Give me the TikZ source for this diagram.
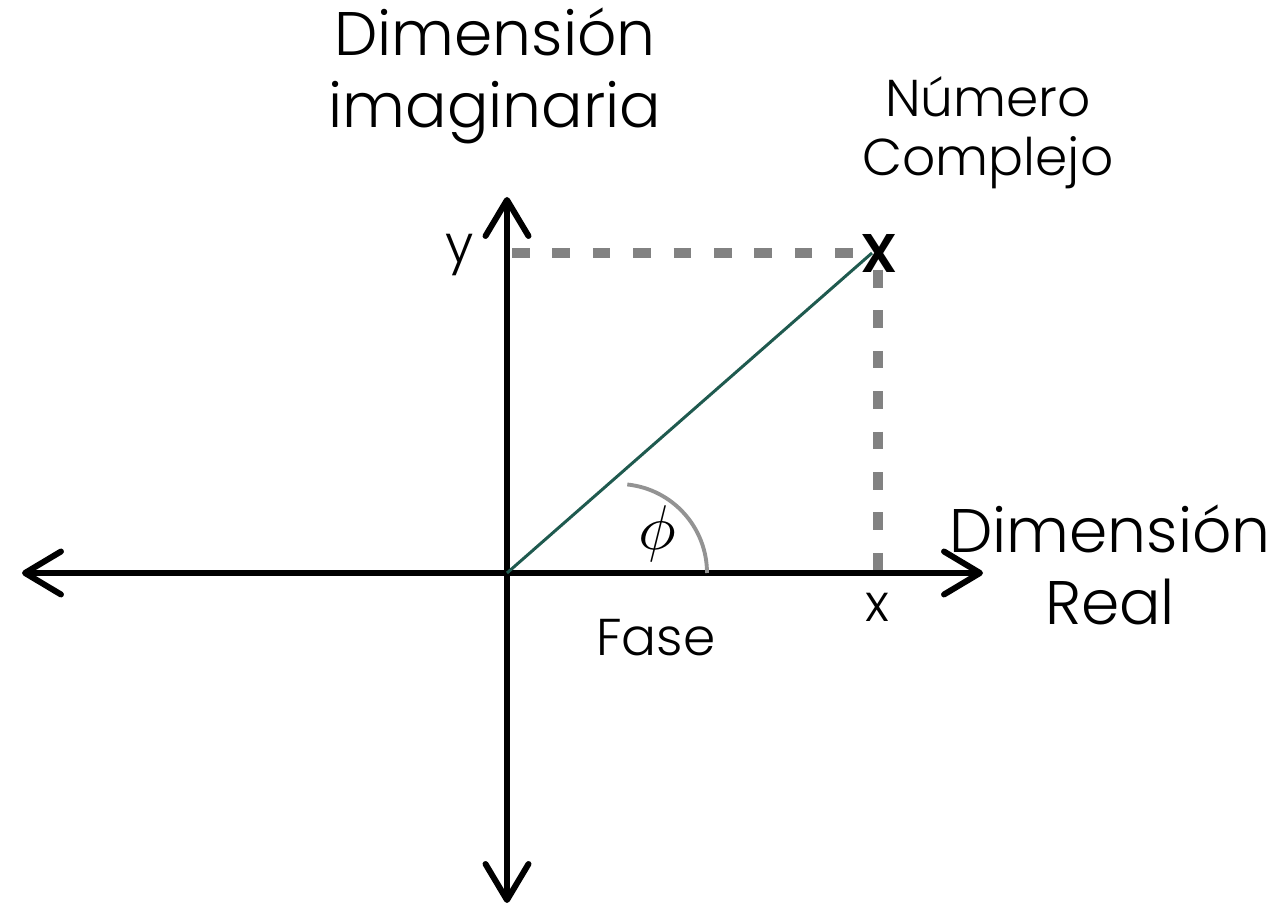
\documentclass[tikz,border=0pt]{standalone}
\usepackage{graphicx}
\usepackage{fontspec}
\setmainfont{Poppins Light}[BoldFont=Poppins SemiBold]
\usepackage{amsmath}
\usetikzlibrary{arrows.meta, positioning, calc}

\definecolor{vecgreen}{HTML}{1F5A4F}
\definecolor{dashgray}{HTML}{828282}

\tikzset{
    axis/.style={line width=3.4pt, line cap=round,
        {Straight Barb[length=0.72cm, width=0.86cm, line cap=round, line join=round]}-{Straight Barb[length=0.72cm, width=0.86cm, line cap=round, line join=round]}},
    guide/.style={draw=dashgray, line width=5.6pt, dash pattern=on 10pt off 13pt},
    biglabel/.style={font=\fontsize{35}{41}\selectfont, align=center},
    smalllabel/.style={font=\fontsize{29.5}{33.5}\selectfont, align=center}
}

\begin{document}
\begin{tikzpicture}[x=0.02cm, y=-0.02cm]
    \useasboundingbox (0,0) rectangle (1276,908);

    % axis end points
    \coordinate (O) at (507,573);
    \coordinate (left) at (22,573);
    \coordinate (right) at (983,573);
    \coordinate (top) at (507,197);
    \coordinate (bottom) at (507,903);
    \coordinate (xfoot) at (878,573);
    \coordinate (yfoot) at (512,253);
    \coordinate (arcstart) at (707,573);

    % complex number
    \node[font=\fontsize{31}{33}\bfseries\selectfont, inner sep=0pt] (P) at (879,253) {X};
    \coordinate (Ptip) at (872,253);

    % projections
    \draw[guide] (yfoot) -- (Ptip);
    \draw[guide] ($(xfoot)+(0,-303)$) -- (xfoot);

    % axes
    \draw[axis] (left) -- (right);
    \draw[axis] (bottom) -- (top);

    % vector and phase
    \draw[vecgreen, line width=1.7pt] (O) -- (Ptip);
    \draw[gray!85, line width=2.2pt] (arcstart) arc[start angle=0, end angle=-84, radius=89];
    \node (phi) at (657,534) {\scalebox{3.6}{$\phi$}};

    % labels
    \node[biglabel] (imag) at (495,76) {Dimensión\\imaginaria};
    \node[smalllabel] (cnum) at (988,133) {Número\\Complejo};
    \node[biglabel] (real) at (1110,565) {Dimensión\\Real};
    \node[smalllabel] (ylab) at (460,255) {y};
    \node[smalllabel] (xlab) at (877,607) {x};
    \node[smalllabel] (fase) at (656,638) {Fase};
\end{tikzpicture}
\end{document}
